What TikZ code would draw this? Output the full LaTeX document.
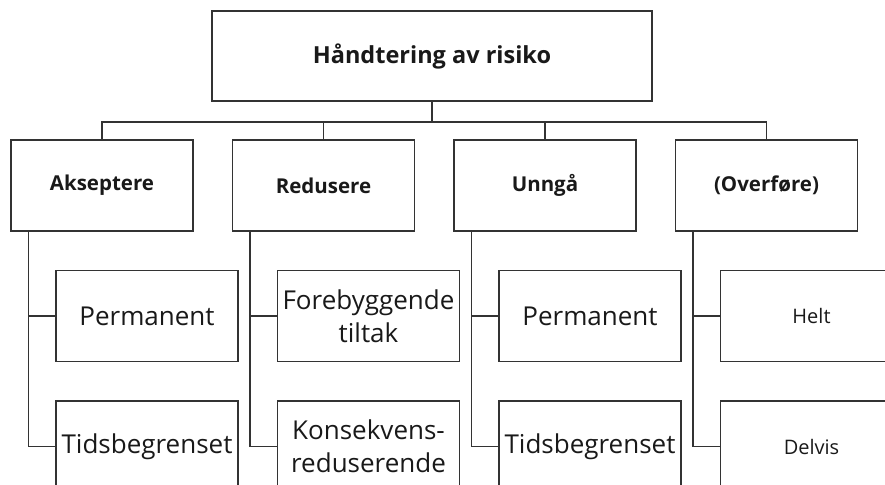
\documentclass[tikz,border=0pt]{standalone}
\usepackage{fontspec}
\setmainfont{Open Sans}
\usepackage{tikz}
\usetikzlibrary{positioning}

\begin{document}
\begin{tikzpicture}[x=1pt,y=-1pt,
  box/.style={draw=black!80,line width=1.5pt,minimum width=182pt,minimum height=91pt,align=center,inner sep=2pt,text=black!90},
  head/.style={box,font=\fontsize{20.5}{25}\selectfont\bfseries},
  sub/.style={box,font=\fontsize{26}{33}\selectfont},
  small/.style={box,font=\fontsize{20}{24}\selectfont},
  link/.style={draw=black!80,line width=1.5pt}]
  \path[use as bounding box,clip] (0,0) rectangle (885,484);
  \node[head,minimum width=440pt,minimum height=90pt,font=\fontsize{23.5}{28}\selectfont\bfseries] (root) at (432,56) {Håndtering av risiko};
  \coordinate (bus) at (432,122);
  \node[head] (akz) at (102,185.5) {Akseptere};
  \node[head,right=38pt of akz] (red) {Redusere};
  \node[head,right=38pt of red] (unn) {Unngå};
  \node[head,right=38pt of unn] (ove) {(Overføre)};
  % second row under each choice
  \node[sub,below right=38pt and 45pt of akz.south west] (akz-a) {Permanent};
  \node[sub,below=38pt of akz-a] (akz-b) {Tidsbegrenset};
  \node[sub,below right=38pt and 45pt of red.south west] (red-a) {Forebyggende\\ tiltak};
  \node[sub,below=38pt of red-a] (red-b) {Konsekvens-\\ reduserende};
  \node[sub,below right=38pt and 45pt of unn.south west] (unn-a) {Permanent};
  \node[sub,below=38pt of unn-a] (unn-b) {Tidsbegrenset};
  \node[small,below right=38pt and 45pt of ove.south west] (ove-a) {Helt};
  \node[small,below=38pt of ove-a] (ove-b) {Delvis};
  \draw[link] (root.south) -- (bus) -| (akz.north);
  \draw[link] (bus) -| (red.north);
  \draw[link] (bus) -| (unn.north);
  \draw[link] (bus) -| (ove.north);
  \draw[link] ([xshift=18pt]akz.south west) |- (akz-b.west);
  \draw[link] ([xshift=18pt]akz.south west) |- (akz-a.west);
  \draw[link] ([xshift=18pt]red.south west) |- (red-b.west);
  \draw[link] ([xshift=18pt]red.south west) |- (red-a.west);
  \draw[link] ([xshift=18pt]unn.south west) |- (unn-b.west);
  \draw[link] ([xshift=18pt]unn.south west) |- (unn-a.west);
  \draw[link] ([xshift=18pt]ove.south west) |- (ove-b.west);
  \draw[link] ([xshift=18pt]ove.south west) |- (ove-a.west);
\end{tikzpicture}
\end{document}
